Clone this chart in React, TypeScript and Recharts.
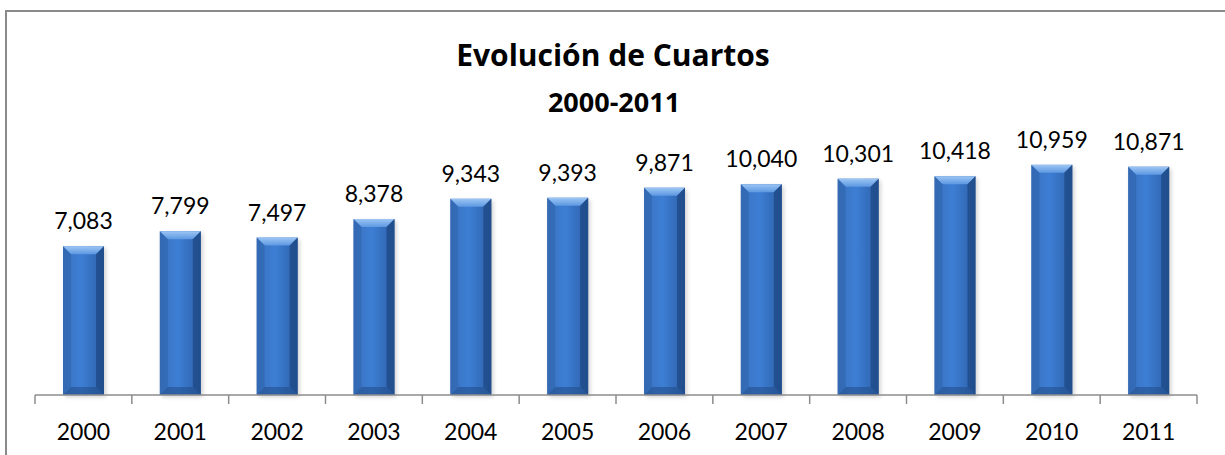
import { BarChart, Bar, XAxis, YAxis, LabelList } from 'recharts';

const years = ['2000', '2001', '2002', '2003', '2004', '2005', '2006', '2007', '2008', '2009', '2010', '2011'];
const rooms = [7083, 7799, 7497, 8378, 9343, 9393, 9871, 10040, 10301, 10418, 10959, 10871];
const yDomain = [0, 12000];

const data = years.map((year, i) => ({ year, rooms: rooms[i] }));

const W = 1225;
const H = 455;
const margin = { top: 143, right: 28, bottom: 20, left: 35 };
const band = (W - margin.left - margin.right) / years.length;
const FONT = 'Lato, "Open Sans", sans-serif';
const TITLE_FONT = '"Open Sans", Lato, sans-serif';

// Excel-ish bevelled column
const BevelBar = (props: any) => {
  const { x, y, width, height } = props;
  if (!height || height <= 0) return null;
  const b = Math.min(8, height / 2);
  return (
    <g>
      <rect x={x + 2} y={y + 2} width={width} height={height} fill="#000" opacity={0.18} filter="url(#barShadow)" />
      <rect x={x} y={y} width={width} height={height} fill="url(#barBody)" />
      <polygon points={`${x},${y} ${x + width},${y} ${x + width - b},${y + b} ${x + b},${y + b}`} fill="url(#barTop)" />
      <polygon points={`${x},${y} ${x + b},${y + b} ${x + b},${y + height - b} ${x},${y + height}`} fill="#2f63aa" opacity={0.55} />
      <polygon points={`${x + width},${y} ${x + width - b},${y + b} ${x + width - b},${y + height - b} ${x + width},${y + height}`} fill="#1d4680" opacity={0.7} />
      <polygon points={`${x},${y + height} ${x + b},${y + height - b} ${x + width - b},${y + height - b} ${x + width},${y + height}`} fill="#234f8c" opacity={0.6} />
    </g>
  );
};

// category boundary ticks + year label
const YearTick = (props: any) => {
  const { x, y, payload, index } = props;
  const left = x - band / 2;
  return (
    <g>
      <line x1={left} y1={y} x2={left} y2={y + 9} stroke="#8c8c8c" strokeWidth={1.5} />
      {index === years.length - 1 && (
        <line x1={x + band / 2} y1={y} x2={x + band / 2} y2={y + 9} stroke="#8c8c8c" strokeWidth={1.5} />
      )}
      <text x={x} y={y + 45} textAnchor="middle" fontSize={23} fontFamily={FONT} fill="#000">
        {payload.value}
      </text>
    </g>
  );
};

export default function App() {
  return (
    <div style={{ position: 'absolute', left: 0, top: 0, width: W, height: H, overflow: 'hidden', background: '#fff' }}>
      <svg width={0} height={0} style={{ position: 'absolute' }}>
        <defs>
          <linearGradient id="barBody" x1="0" y1="0" x2="1" y2="0">
            <stop offset="0%" stopColor="#3a72c0" />
            <stop offset="45%" stopColor="#3d7ed4" />
            <stop offset="100%" stopColor="#2c60a8" />
          </linearGradient>
          <linearGradient id="barTop" x1="0" y1="0" x2="0" y2="1">
            <stop offset="0%" stopColor="#9cc5f4" />
            <stop offset="100%" stopColor="#5d98e2" />
          </linearGradient>
          <filter id="barShadow" x="-20%" y="-5%" width="140%" height="110%">
            <feGaussianBlur stdDeviation="2" />
          </filter>
        </defs>
      </svg>
      <div
        style={{
          position: 'absolute',
          left: 5,
          top: 10,
          width: W + 50,
          height: H + 50,
          border: '2px solid #8a8a8a',
          boxSizing: 'border-box',
        }}
      />
      <svg width={W} height={130} style={{ position: 'absolute', left: 0, top: 0 }}>
        <text x={613} y={66} textAnchor="middle" fontSize={30} fontWeight="bold" fontFamily={TITLE_FONT} fill="#000">
          Evolución de Cuartos
        </text>
        <text x={614} y={112} textAnchor="middle" fontSize={27} fontWeight="bold" fontFamily={TITLE_FONT} fill="#000">
          2000-2011
        </text>
      </svg>
      <div style={{ position: 'absolute', left: 0, top: 0 }}>
        <BarChart width={W} height={H} data={data} margin={margin}>
          <XAxis
            dataKey="year"
            height={40}
            axisLine={{ stroke: '#8c8c8c', strokeWidth: 1.5 }}
            tickLine={false}
            tickSize={0}
            tickMargin={0}
            interval={0}
            tick={<YearTick />}
          />
          <YAxis hide domain={yDomain} />
          <Bar dataKey="rooms" barSize={41} shape={<BevelBar />} isAnimationActive={false}>
            <LabelList
              dataKey="rooms"
              position="top"
              offset={17}
              formatter={(v: any) => Number(v).toLocaleString('en-US')}
              style={{ fill: '#000', fontSize: 23, fontFamily: FONT }}
            />
          </Bar>
        </BarChart>
      </div>
    </div>
  );
}
